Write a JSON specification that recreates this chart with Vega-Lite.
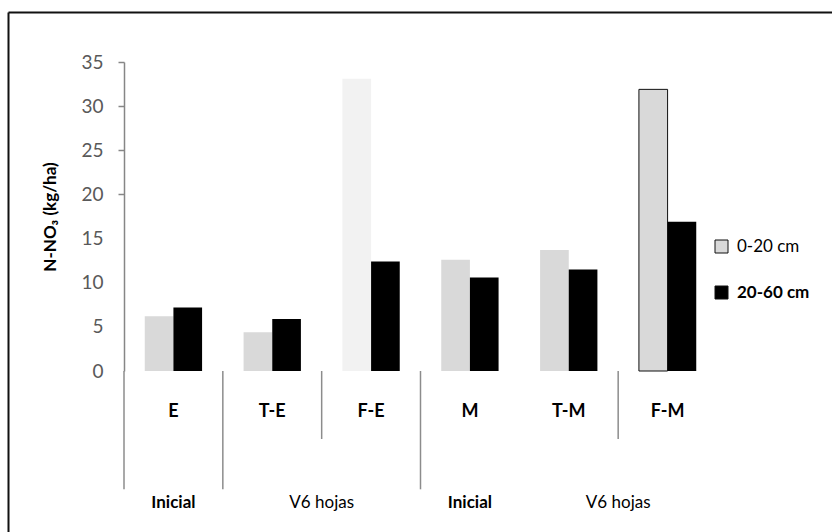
{
  "$schema": "https://vega.github.io/schema/vega-lite/v6.json",
  "width": 824,
  "height": 520,
  "autosize": {"type": "none"},
  "padding": {"left": 8, "top": 12, "right": 0, "bottom": 0},
  "background": "white",
  "config": {
    "view": {"stroke": null},
    "font": "Lato"
  },
  "data": {
    "values": [
      {"categoria": "E", "grupo": "Inicial", "profundidad": "0-20 cm", "valor": 6.2},
      {"categoria": "E", "grupo": "Inicial", "profundidad": "20-60 cm", "valor": 7.2},
      {"categoria": "T-E", "grupo": "V6 hojas", "profundidad": "0-20 cm", "valor": 4.4},
      {"categoria": "T-E", "grupo": "V6 hojas", "profundidad": "20-60 cm", "valor": 5.9},
      {"categoria": "F-E", "grupo": "V6 hojas", "profundidad": "0-20 cm", "valor": 33.1},
      {"categoria": "F-E", "grupo": "V6 hojas", "profundidad": "20-60 cm", "valor": 12.4},
      {"categoria": "M", "grupo": "Inicial", "profundidad": "0-20 cm", "valor": 12.6},
      {"categoria": "M", "grupo": "Inicial", "profundidad": "20-60 cm", "valor": 10.6},
      {"categoria": "T-M", "grupo": "V6 hojas", "profundidad": "0-20 cm", "valor": 13.7},
      {"categoria": "T-M", "grupo": "V6 hojas", "profundidad": "20-60 cm", "valor": 11.5},
      {"categoria": "F-M", "grupo": "V6 hojas", "profundidad": "0-20 cm", "valor": 31.9},
      {"categoria": "F-M", "grupo": "V6 hojas", "profundidad": "20-60 cm", "valor": 16.9}
    ]
  },
  "resolve": {
    "scale": {"x": "independent", "y": "independent"},
    "axis": {"x": "independent", "y": "independent"}
  },
  "layer": [
    {
      "layer": [
        {
          "mark": {"type": "bar"},
          "encoding": {
            "x": {
              "field": "categoria",
              "type": "nominal",
              "sort": ["E", "T-E", "F-E", "M", "T-M", "F-M"],
              "scale": {"range": [116, 709], "paddingInner": 0, "paddingOuter": 0},
              "axis": null
            },
            "xOffset": {
              "field": "profundidad",
              "type": "nominal",
              "sort": ["0-20 cm", "20-60 cm"],
              "scale": {"paddingInner": 0, "paddingOuter": 0.724}
            },
            "y": {
              "field": "valor",
              "type": "quantitative",
              "scale": {"domain": [0, 35], "range": [359, 50], "nice": false},
              "axis": {
                "title": "N-NO₃ (kg/ha)",
                "orient": "left",
                "offset": -116,
                "values": [0, 5, 10, 15, 20, 25, 30, 35],
                "grid": false,
                "domainColor": "#868686",
                "domainWidth": 1.5,
                "tickColor": "#868686",
                "tickWidth": 1.5,
                "tickSize": 6,
                "tickOpacity": {"condition": {"test": "datum.value < 20", "value": 0}, "value": 1},
                "labelFont": "Lato",
                "labelFontSize": 19,
                "labelColor": "#595959",
                "labelPadding": 15,
                "titleFont": "Lato",
                "titleFontSize": 17,
                "titleFontWeight": "bold",
                "titleColor": "#000000",
                "titleAngle": -90,
                "titleX": -74,
                "titleY": 204.5,
                "titleBaseline": "middle",
                "titleAlign": "center"
              }
            },
            "color": {
              "condition": {
                "test": "datum.categoria === 'F-E' && datum.profundidad === '0-20 cm'",
                "value": "#f2f2f2"
              },
              "field": "profundidad",
              "type": "nominal",
              "scale": {"domain": ["0-20 cm", "20-60 cm"], "range": ["#d9d9d9", "#000000"]},
              "legend": {
                "title": null,
                "orient": "none",
                "legendX": 705,
                "legendY": 226,
                "padding": 0,
                "symbolType": "square",
                "symbolSize": 169,
                "symbolStrokeColor": "#111111",
                "symbolStrokeWidth": 1,
                "labelFont": "Lato",
                "labelFontSize": 17,
                "labelColor": "#000000",
                "labelOffset": 7,
                "rowPadding": 28,
                "encode": {
                  "labels": {
                    "update": {
                      "fontWeight": {"signal": "datum.value === '20-60 cm' ? 'bold' : 'normal'"}
                    }
                  }
                }
              }
            },
            "stroke": {
              "condition": {
                "test": "datum.categoria === 'F-M' && datum.profundidad === '0-20 cm'",
                "value": "#111111"
              },
              "value": "transparent"
            }
          }
        },
        {
          "transform": [
            {"filter": {"field": "profundidad", "equal": "0-20 cm"}},
            {"filter": {"field": "categoria", "oneOf": ["E", "T-E", "M"]}}
          ],
          "mark": {"type": "rule", "color": "#8c8c8c", "strokeWidth": 1.5},
          "encoding": {
            "x": {"field": "categoria", "type": "nominal", "sort": ["E", "T-E", "F-E", "M", "T-M", "F-M"], "bandPosition": 0, "axis": null},
            "y": {"datum": 0},
            "y2": {"datum": -13.4}
          }
        },
        {
          "transform": [
            {"filter": {"field": "profundidad", "equal": "0-20 cm"}},
            {"filter": {"field": "categoria", "oneOf": ["F-E", "F-M"]}}
          ],
          "mark": {"type": "rule", "color": "#8c8c8c", "strokeWidth": 1.5},
          "encoding": {
            "x": {"field": "categoria", "type": "nominal", "sort": ["E", "T-E", "F-E", "M", "T-M", "F-M"], "bandPosition": 0, "axis": null},
            "y": {"datum": 0},
            "y2": {"datum": -7.7}
          }
        },
        {
          "transform": [
            {"filter": {"field": "profundidad", "equal": "0-20 cm"}}
          ],
          "mark": {"type": "text", "font": "Lato", "fontSize": 18, "fontWeight": "bold", "color": "#000000", "align": "center", "baseline": "middle"},
          "encoding": {
            "x": {"field": "categoria", "type": "nominal", "sort": ["E", "T-E", "F-E", "M", "T-M", "F-M"], "axis": null},
            "y": {"datum": -4.64},
            "text": {"field": "categoria"}
          }
        },
        {
          "transform": [
            {"filter": {"field": "profundidad", "equal": "0-20 cm"}},
            {"filter": {"field": "grupo", "equal": "Inicial"}}
          ],
          "mark": {"type": "text", "font": "Lato", "fontSize": 17, "fontWeight": "bold", "color": "#000000", "align": "center", "baseline": "middle"},
          "encoding": {
            "x": {"field": "categoria", "type": "nominal", "sort": ["E", "T-E", "F-E", "M", "T-M", "F-M"], "axis": null},
            "y": {"datum": -14.95},
            "text": {"field": "grupo"}
          }
        },
        {
          "transform": [
            {"filter": {"field": "profundidad", "equal": "0-20 cm"}},
            {"filter": {"field": "categoria", "oneOf": ["F-E", "F-M"]}}
          ],
          "mark": {"type": "text", "font": "Lato", "fontSize": 17, "fontWeight": "normal", "color": "#000000", "align": "center", "baseline": "middle"},
          "encoding": {
            "x": {"field": "categoria", "type": "nominal", "sort": ["E", "T-E", "F-E", "M", "T-M", "F-M"], "bandPosition": 0, "axis": null},
            "y": {"datum": -14.95},
            "text": {"field": "grupo"}
          }
        }
      ]
    },
    {
      "mark": {"type": "point", "opacity": 0},
      "encoding": {
        "x": {
          "datum": 0,
          "type": "quantitative",
          "scale": {"domain": [0, 1], "range": [0, 824], "nice": false},
          "axis": {"orient": "top", "offset": 0, "title": null, "domain": true, "domainColor": "#111111", "domainWidth": 2, "ticks": false, "labels": false, "grid": false}
        },
        "y": {
          "datum": 0,
          "type": "quantitative",
          "scale": {"domain": [0, 1], "range": [520, 0], "nice": false},
          "axis": {"orient": "left", "offset": 0, "title": null, "domain": true, "domainColor": "#111111", "domainWidth": 2, "ticks": false, "labels": false, "grid": false}
        }
      }
    }
  ]
}
